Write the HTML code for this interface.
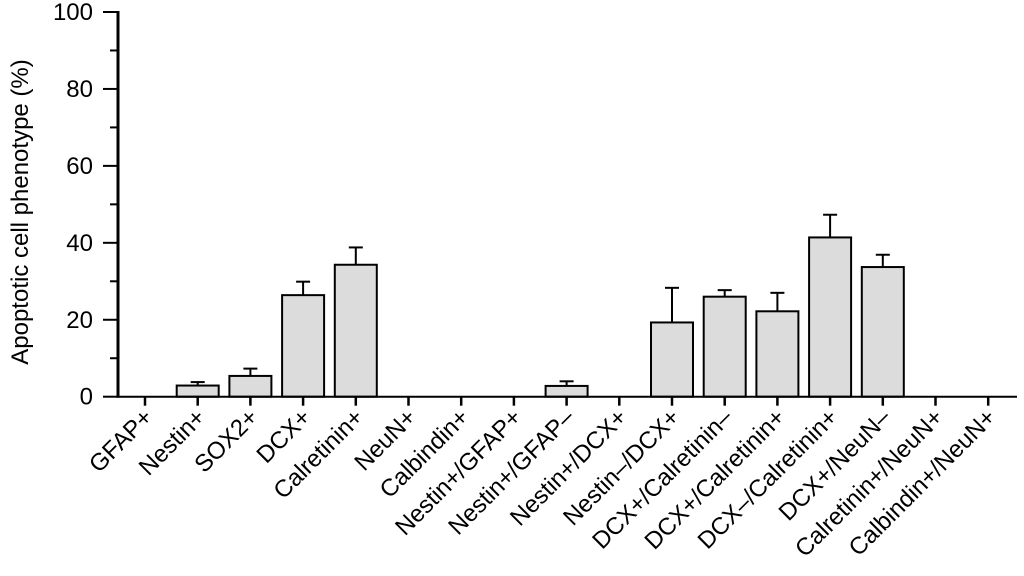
<!DOCTYPE html>
<html><head><meta charset="utf-8"><style>
html,body{margin:0;padding:0;background:#fff;}
svg{display:block;font-family:"Liberation Sans",Arial,sans-serif;}
</style></head><body>
<svg id="chart" width="1024" height="576" viewBox="0 0 1024 576"></svg>
<script>
const categories=["GFAP+","Nestin+","SOX2+","DCX+","Calretinin+","NeuN+","Calbindin+","Nestin+/GFAP+","Nestin+/GFAP\u2013","Nestin+/DCX+","Nestin\u2013/DCX+","DCX+/Calretinin\u2013","DCX+/Calretinin+","DCX\u2013/Calretinin+","DCX+/NeuN\u2013","Calretinin+/NeuN+","Calbindin+/NeuN+"];
const values=[0,2.9,5.4,26.4,34.3,0,0,0,2.8,0,19.3,26.0,22.2,41.4,33.7,0,0];
const errors=[0,0.9,1.9,3.5,4.5,0,0,0,1.2,0,9.0,1.7,4.8,5.9,3.2,0,0];
const yTicks=[0,20,40,60,80,100];
const NS="http://www.w3.org/2000/svg";
const svg=document.getElementById('chart');
const x0=118,x1=1017,yBase=396.7,yTop=12,firstC=145,step=52.7,barW=42;
function y(v){return yBase-(v/100)*(yBase-yTop);}
function xc(i){return firstC+i*step;}
function mk(tag,attrs,parent){const e=document.createElementNS(NS,tag);for(const k in attrs)e.setAttribute(k,attrs[k]);(parent||svg).appendChild(e);return e;}
categories.forEach((c,i)=>{
  const v=values[i];if(v<=0)return;
  const g=mk('g',{});
  
  
  const top=y(v+errors[i]);
  mk('line',{x1:xc(i),x2:xc(i),y1:y(v),y2:top,stroke:'#000','stroke-width':2},g);
  mk('line',{x1:xc(i)-7,x2:xc(i)+7,y1:top,y2:top,stroke:'#000','stroke-width':2},g);
  mk('rect',{x:xc(i)-barW/2,y:y(v),width:barW,height:yBase-y(v),fill:'#dcdcdc',stroke:'#000','stroke-width':2},g);
});
const ya=mk('g',{});


mk('line',{x1:x0,x2:x0,y1:yTop-1,y2:yBase+1,stroke:'#000','stroke-width':3},ya);
for(let v=0;v<=100;v+=10){
  mk('line',{x1:v%20===0?x0-15:x0-8,x2:x0,y1:y(v),y2:y(v),stroke:'#000','stroke-width':2},ya);
}
yTicks.forEach(v=>{
  const t=mk('text',{x:x0-25,y:y(v)+8,'text-anchor':'end','font-size':24,fill:'#000'},ya);
  t.textContent=v;
  
  
});
const yt=mk('text',{x:0,y:0,transform:'translate(28,212) rotate(-90)','text-anchor':'middle','font-size':24,fill:'#000'});
yt.textContent='Apoptotic cell phenotype (%)';


const xa=mk('g',{});


mk('line',{x1:x0,x2:x1,y1:yBase,y2:yBase,stroke:'#000','stroke-width':2},xa);
categories.forEach((c,i)=>{
  mk('line',{x1:xc(i),x2:xc(i),y1:yBase,y2:yBase+9,stroke:'#000','stroke-width':2.5},xa);
  const t=mk('text',{x:0,y:0,transform:`translate(${xc(i)+9},${yBase+22}) rotate(-45)`,'text-anchor':'end','font-size':24,fill:'#000'},xa);
  t.textContent=c;
  
  
});
</script>
</body></html>
